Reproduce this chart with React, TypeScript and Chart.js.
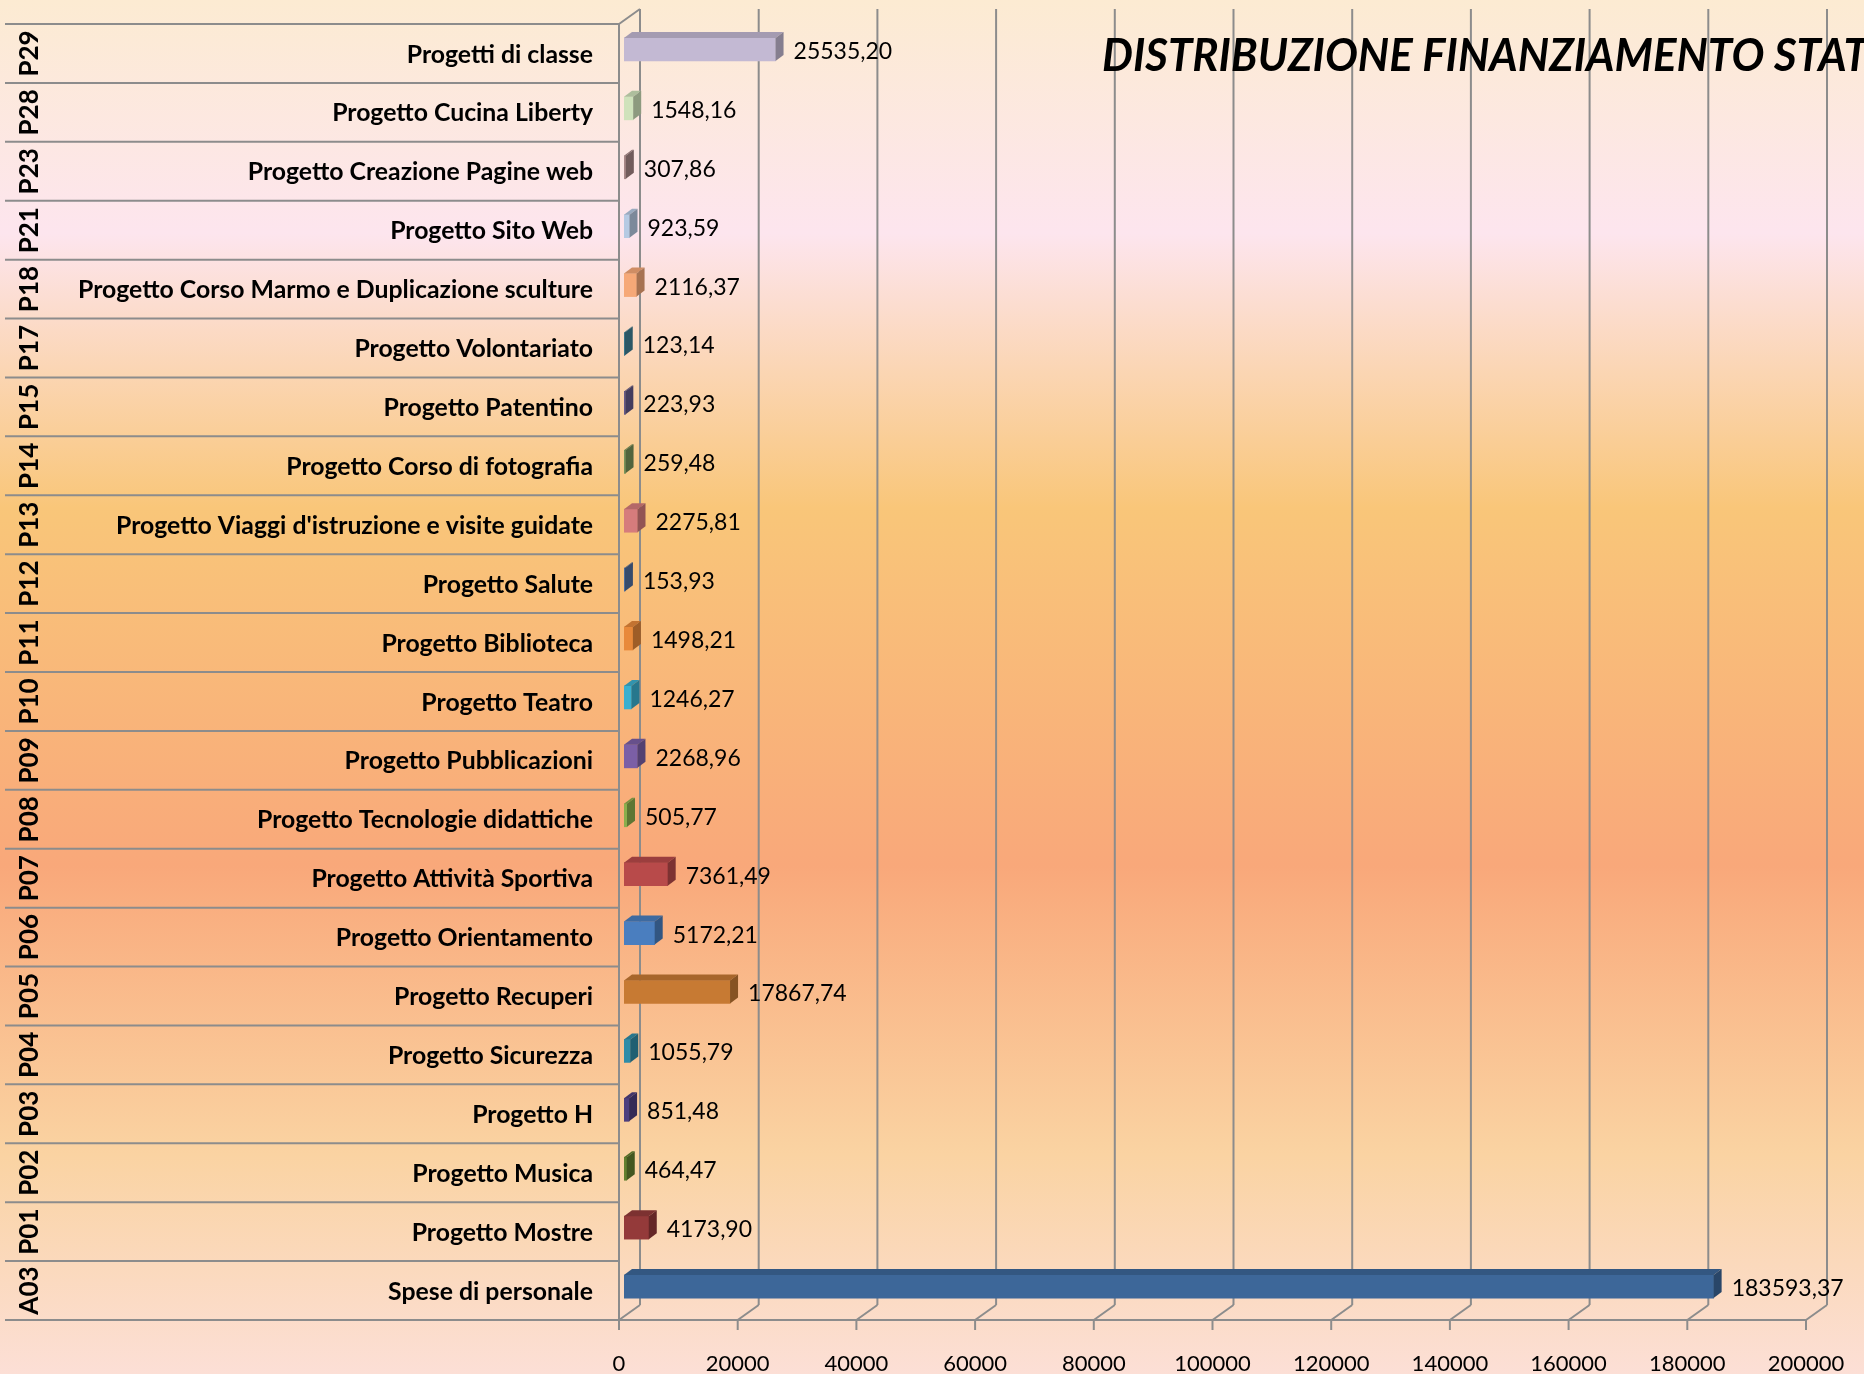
import React, { useEffect, useRef } from "react";
import { Chart, registerables } from "chart.js";

Chart.register(...registerables);

// ---------------- DATA ----------------
const CODES = [
  "P29", "P28", "P23", "P21", "P18", "P17", "P15", "P14", "P13", "P12", "P11",
  "P10", "P09", "P08", "P07", "P06", "P05", "P04", "P03", "P02", "P01", "A03",
];

const NAMES = [
  "Progetti di classe",
  "Progetto Cucina Liberty",
  "Progetto Creazione Pagine web",
  "Progetto Sito Web",
  "Progetto Corso Marmo e Duplicazione sculture",
  "Progetto Volontariato",
  "Progetto Patentino",
  "Progetto Corso di fotografia",
  "Progetto Viaggi d'istruzione e visite guidate",
  "Progetto Salute",
  "Progetto Biblioteca",
  "Progetto Teatro",
  "Progetto Pubblicazioni",
  "Progetto Tecnologie didattiche",
  "Progetto Attività Sportiva",
  "Progetto Orientamento",
  "Progetto Recuperi",
  "Progetto Sicurezza",
  "Progetto H",
  "Progetto Musica",
  "Progetto Mostre",
  "Spese di personale",
];

const VALUES = [
  25535.2, 1548.16, 307.86, 923.59, 2116.37, 123.14, 223.93, 259.48, 2275.81,
  153.93, 1498.21, 1246.27, 2268.96, 505.77, 7361.49, 5172.21, 17867.74,
  1055.79, 851.48, 464.47, 4173.9, 183593.37,
];

const X_TICKS = [0, 20000, 40000, 60000, 80000, 100000, 120000, 140000, 160000, 180000, 200000];

const TITLE = "DISTRIBUZIONE FINANZIAMENTO STAT";

// ---------------- STYLE ----------------
const BAR_COLORS = [
  "#C3B9D3", "#CFE2BB", "#A88888", "#B6CAE3", "#F6A877", "#3F8096", "#64598A",
  "#77935A", "#D67C7C", "#4F6F9F", "#E8893A", "#3AAFCF", "#7B5FA6", "#8AAE4C",
  "#B84A4A", "#4A7EBF", "#C77A33", "#2F8CA8", "#4E3F7E", "#62802F", "#943A3A",
  "#3D6799",
];

const BG_STOPS: [number, string][] = [
  [0, "#FCEBD2"],
  [0.17, "#FDE5EE"],
  [0.37, "#F9C679"],
  [0.63, "#F9A87A"],
  [0.84, "#FAD3A2"],
  [1, "#FCDFD6"],
];

const GRID = "#8C8C8C";
const FRONT_DX = -5;
const FRONT_DY = 4;
const WALL_DX = 21;
const WALL_DY = -15;
const BAR_DX = 8;
const BAR_DY = -6;
const BAR_H = 23;
const FONT = "Lato, 'Open Sans', sans-serif";

function shade(hex: string, f: number): string {
  const n = parseInt(hex.slice(1), 16);
  const r = Math.round(((n >> 16) & 255) * f);
  const g = Math.round(((n >> 8) & 255) * f);
  const b = Math.round((n & 255) * f);
  return `rgb(${r},${g},${b})`;
}

function fmt(v: number): string {
  return v.toFixed(2).replace(".", ",");
}

function line(ctx: CanvasRenderingContext2D, x1: number, y1: number, x2: number, y2: number) {
  ctx.beginPath();
  ctx.moveTo(x1, y1);
  ctx.lineTo(x2, y2);
  ctx.stroke();
}

const scenePlugin = {
  id: "scene3d",
  beforeDraw(chart: any) {
    const { ctx, width, height, chartArea: ca, scales } = chart;
    const xs = scales.x;
    const ys = scales.y;
    ctx.save();
    const g = ctx.createLinearGradient(0, 0, 0, height);
    BG_STOPS.forEach(([p, c]) => g.addColorStop(p, c));
    ctx.fillStyle = g;
    ctx.fillRect(0, 0, width, height);

    const ft = ca.top + FRONT_DY;
    const fb = ca.bottom + FRONT_DY;
    const fl = xs.getPixelForValue(0) + FRONT_DX;
    const fr = xs.getPixelForValue(200000) + FRONT_DX;

    ctx.strokeStyle = GRID;
    ctx.lineWidth = 2;
    X_TICKS.forEach((v) => {
      const x = xs.getPixelForValue(v) + FRONT_DX;
      line(ctx, x + WALL_DX, ft + WALL_DY, x + WALL_DX, fb + WALL_DY);
      line(ctx, x, fb, x + WALL_DX, fb + WALL_DY);
      line(ctx, x, fb, x, fb + 10);
    });
    line(ctx, fl, fb, fr, fb);
    line(ctx, fl, ft, fl, fb);
    line(ctx, fl, ft, fl + WALL_DX, ft + WALL_DY);

    // row separators of the label table
    for (let k = 0; k <= CODES.length; k++) {
      const y = ys.getPixelForValue(k - 0.5) + FRONT_DY;
      line(ctx, 5, y, fl, y);
    }
    ctx.restore();
  },
  afterDatasetsDraw(chart: any) {
    const { ctx } = chart;
    const meta = chart.getDatasetMeta(0);
    ctx.save();
    meta.data.forEach((el: any, i: number) => {
      const top = el.y - BAR_H / 2;
      const bot = el.y + BAR_H / 2;
      const x0 = el.base;
      const x1 = el.x;
      const c = BAR_COLORS[i];
      // top face
      ctx.fillStyle = shade(c, 0.84);
      ctx.beginPath();
      ctx.moveTo(x0, top);
      ctx.lineTo(x1, top);
      ctx.lineTo(x1 + BAR_DX, top + BAR_DY);
      ctx.lineTo(x0 + BAR_DX, top + BAR_DY);
      ctx.closePath();
      ctx.fill();
      // side face
      ctx.fillStyle = shade(c, 0.68);
      ctx.beginPath();
      ctx.moveTo(x1, top);
      ctx.lineTo(x1 + BAR_DX, top + BAR_DY);
      ctx.lineTo(x1 + BAR_DX, bot + BAR_DY);
      ctx.lineTo(x1, bot);
      ctx.closePath();
      ctx.fill();
    });
    ctx.restore();
  },
  afterDraw(chart: any) {
    const { ctx, scales } = chart;
    const xs = scales.x;
    const ys = scales.y;
    const meta = chart.getDatasetMeta(0);
    ctx.save();
    ctx.fillStyle = "#000";

    // category names
    ctx.font = `bold 25px ${FONT}`;
    const longest = NAMES.reduce((a, b) => (ctx.measureText(a).width > ctx.measureText(b).width ? a : b));
    const nameScale = 515 / ctx.measureText(longest).width;
    ctx.textBaseline = "middle";
    NAMES.forEach((n, i) => {
      const y = ys.getPixelForValue(i) + FRONT_DY + 1;
      ctx.save();
      ctx.translate(593, y);
      ctx.scale(nameScale, 1);
      ctx.textAlign = "right";
      ctx.fillText(n, 0, 0);
      ctx.restore();
    });

    // codes (rotated)
    CODES.forEach((c, i) => {
      const y = ys.getPixelForValue(i) + FRONT_DY;
      ctx.save();
      ctx.translate(30, y);
      ctx.rotate(-Math.PI / 2);
      ctx.textAlign = "center";
      ctx.textBaseline = "middle";
      ctx.font = `bold 26px ${FONT}`;
      ctx.fillText(c, 0, 0);
      ctx.restore();
    });

    // value labels
    ctx.font = `23px ${FONT}`;
    ctx.textAlign = "left";
    ctx.textBaseline = "middle";
    meta.data.forEach((el: any, i: number) => {
      ctx.fillText(fmt(VALUES[i]), el.x + BAR_DX + 10, el.y + 2);
    });

    // x tick labels
    ctx.font = `22px ${FONT}`;
    ctx.textAlign = "center";
    X_TICKS.forEach((v) => {
      const x = xs.getPixelForValue(v) + FRONT_DX;
      ctx.fillText(String(v), x, 1364);
    });

    // title
    ctx.font = `italic bold 46px ${FONT}`;
    const tw = ctx.measureText(TITLE).width;
    const ts = 766 / tw;
    ctx.save();
    ctx.translate(1102, 56);
    ctx.scale(ts, 1);
    ctx.textAlign = "left";
    ctx.textBaseline = "middle";
    ctx.fillText(TITLE, 0, 0);
    ctx.restore();

    ctx.restore();
  },
};

export default function App() {
  const ref = useRef<HTMLCanvasElement>(null);
  useEffect(() => {
    if (!ref.current) return;
    const chart = new Chart(ref.current, {
      type: "bar",
      data: {
        labels: CODES,
        datasets: [
          {
            data: VALUES,
            backgroundColor: BAR_COLORS,
            borderWidth: 0,
            barThickness: BAR_H,
          },
        ],
      },
      options: {
        indexAxis: "y",
        responsive: false,
        animation: false,
        devicePixelRatio: 1,
        layout: { padding: { left: 624, right: 53, top: 20, bottom: 58 } },
        plugins: {
          legend: { display: false },
          tooltip: { enabled: false },
          title: { display: false },
        },
        scales: {
          x: { type: "linear", min: 0, max: 200000, display: false },
          y: { type: "category", display: false, offset: true },
        },
      },
      plugins: [scenePlugin],
    } as any);
    return () => chart.destroy();
  }, []);
  return (
    <div style={{ position: "fixed", left: 0, top: 0, width: 1864, height: 1374 }}>
      <canvas ref={ref} width={1864} height={1374} style={{ width: 1864, height: 1374, display: "block" }} />
    </div>
  );
}
